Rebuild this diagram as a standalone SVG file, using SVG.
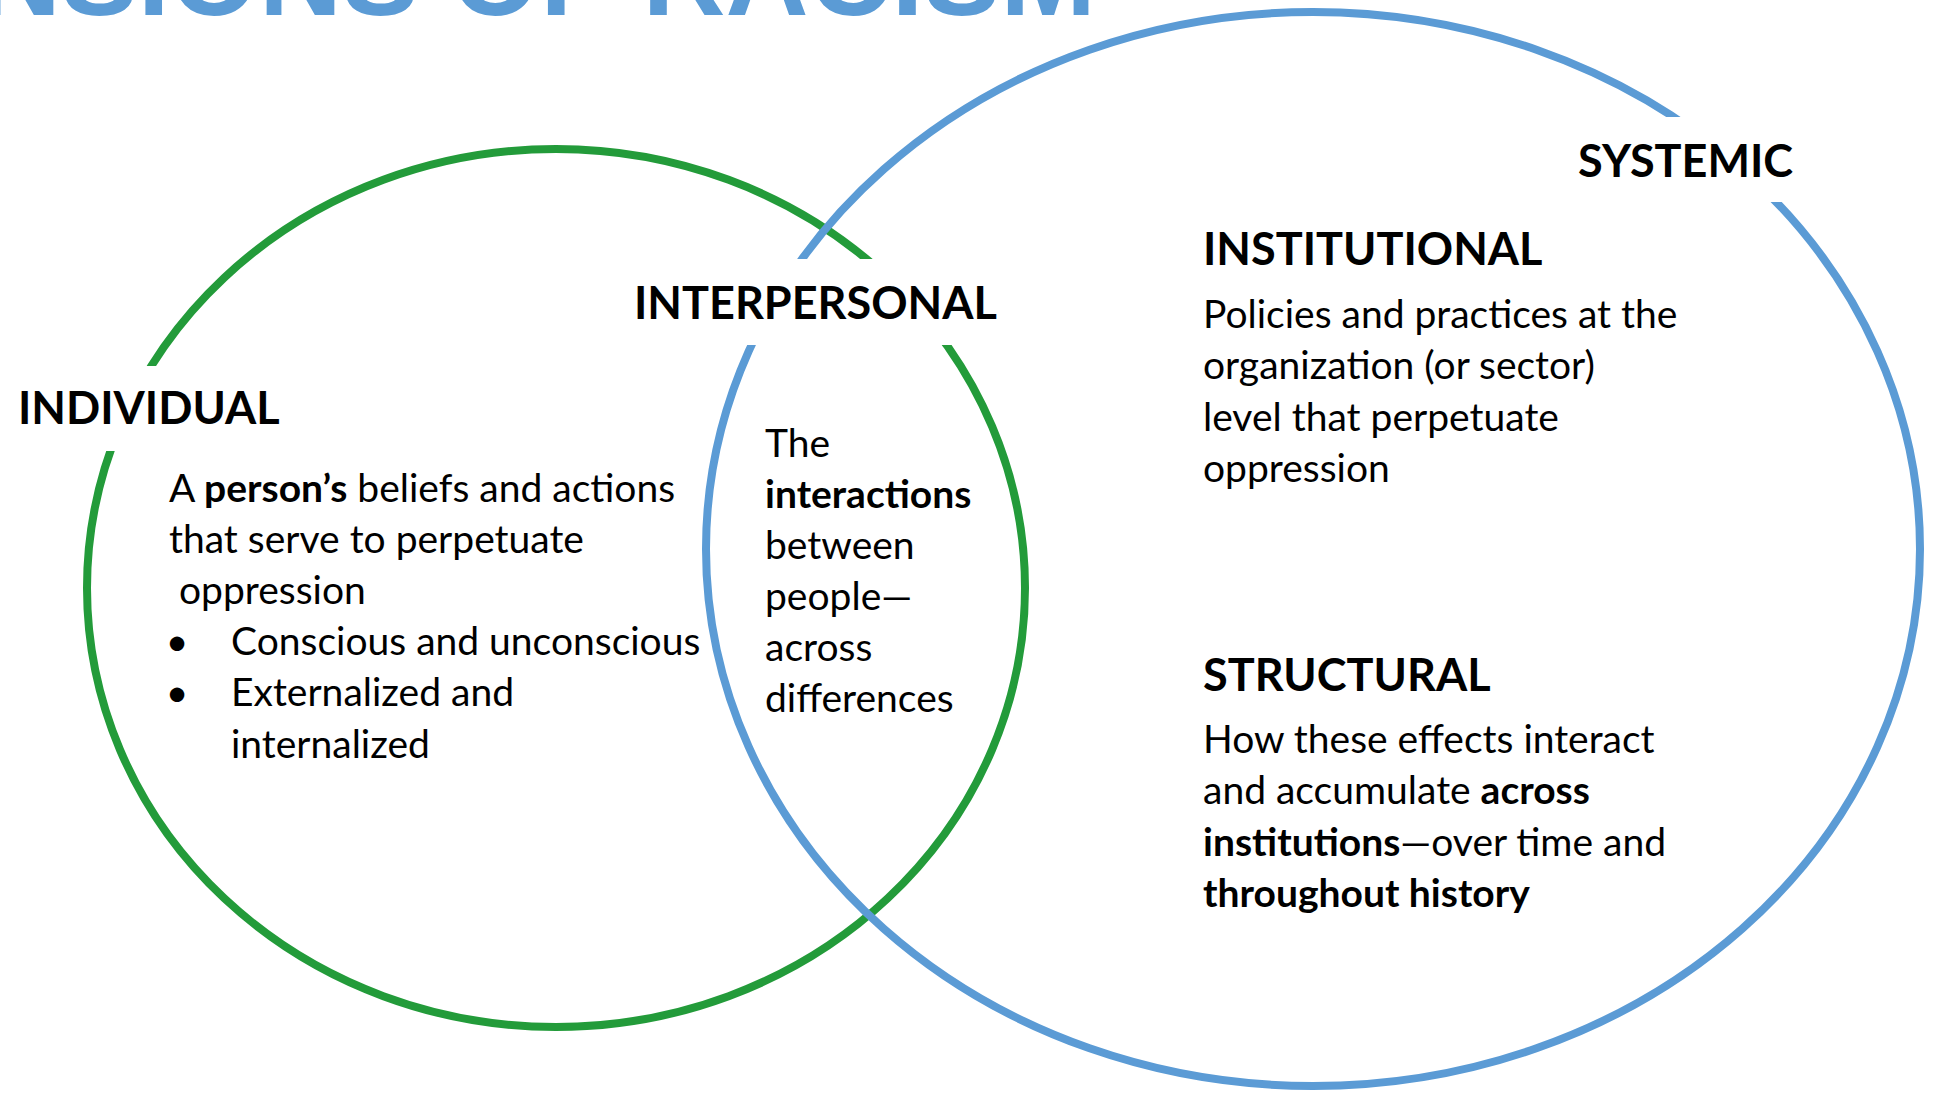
<svg xmlns="http://www.w3.org/2000/svg" width="1934" height="1094" viewBox="0 0 1934 1094">
<style>
.bg{fill:#ffffff}
.ring{fill:none;stroke-width:8}
.green{stroke:#239B3A}
.blue{stroke:#5B9BD5}
.mask{fill:#ffffff}
.head{font-family:Lato,"Open Sans","Liberation Sans",sans-serif;font-weight:700;font-size:45px;fill:#000}
.body{font-family:Lato,"Open Sans","Liberation Sans",sans-serif;font-weight:400;font-size:39px;fill:#000}
.b{font-weight:700}
.title{font-family:"Liberation Sans",Arial,sans-serif;font-weight:700;font-size:115px;fill:#5B9BD5}
</style>
<rect class="bg" x="0" y="0" width="1934" height="1094"/>
<text id="title" class="title" x="1096" y="15" text-anchor="end">DIMENSIONS OF RACISM</text>
<g id="sets">
  <ellipse id="circle-individual" class="ring green" cx="556" cy="588" rx="469" ry="439"/>
  <ellipse id="circle-systemic" class="ring blue" cx="1313" cy="549" rx="607" ry="537"/>
</g>
<g id="connectors"></g>
<g id="individual">
  <rect class="mask" x="0" y="366" width="292" height="85"/>
  <text class="head" x="18" y="424">INDIVIDUAL</text>
  <text class="body" x="169" y="502">A <tspan class="b">person’s</tspan> beliefs and actions</text>
  <text class="body" x="169" y="553">that serve to perpetuate</text>
  <text class="body" x="169" y="604"> <tspan x="179">oppression</tspan></text>
  <text class="body" x="177" y="655" text-anchor="middle">•</text>
  <text class="body" x="231" y="655">Conscious and unconscious</text>
  <text class="body" x="177" y="706" text-anchor="middle">•</text>
  <text class="body" x="231" y="706">Externalized and</text>
  <text class="body" x="231" y="758">internalized</text>
</g>
<g id="interpersonal">
  <rect class="mask" x="622" y="259" width="386" height="86"/>
  <text class="head" x="634" y="319">INTERPERSONAL</text>
  <text class="body" x="765" y="457">The</text>
  <text class="body b" x="765" y="508">interactions</text>
  <text class="body" x="765" y="559">between</text>
  <text class="body" x="765" y="610">people—</text>
  <text class="body" x="765" y="661">across</text>
  <text class="body" x="765" y="712">differences</text>
</g>
<g id="systemic">
  <rect class="mask" x="1566" y="117" width="242" height="85"/>
  <text class="head" x="1578" y="177">SYSTEMIC</text>
</g>
<g id="institutional">
  <text class="head" x="1203" y="265">INSTITUTIONAL</text>
  <text class="body" x="1203" y="328">Policies and practices at the</text>
  <text class="body" x="1203" y="379">organization (or sector)</text>
  <text class="body" x="1203" y="431">level that perpetuate</text>
  <text class="body" x="1203" y="482">oppression</text>
</g>
<g id="structural">
  <text class="head" x="1203" y="691">STRUCTURAL</text>
  <text class="body" x="1203" y="753">How these effects interact</text>
  <text class="body" x="1203" y="804">and accumulate <tspan class="b">across</tspan></text>
  <text class="body" x="1203" y="856"><tspan class="b">institutions</tspan>—over time and</text>
  <text class="body b" x="1203" y="907">throughout history</text>
</g>
</svg>
